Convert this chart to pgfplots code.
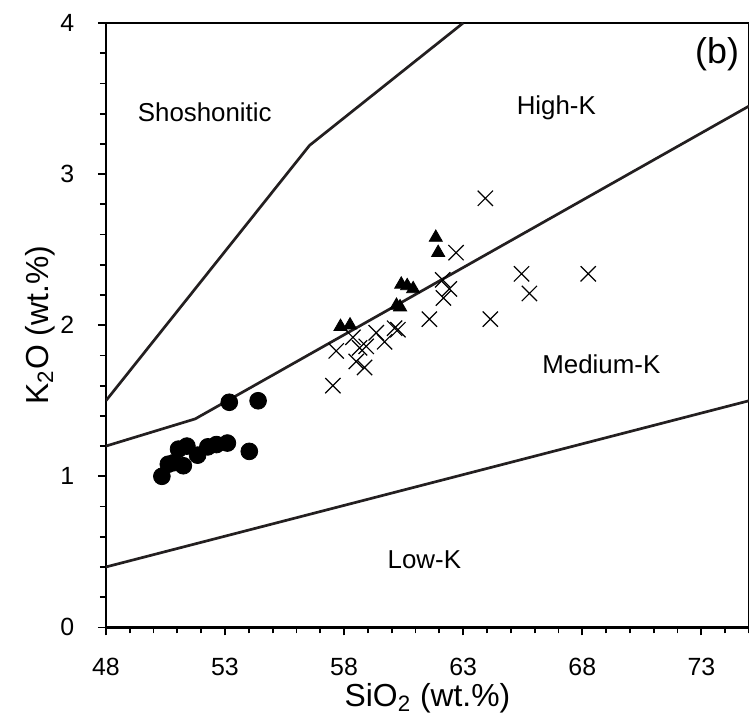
\documentclass[border=0pt]{standalone}
\usepackage{pgfplots}
\pgfplotsset{compat=1.18}
\usepackage{fontspec}
\setmainfont{Liberation Sans}
\setsansfont{Liberation Sans}
\definecolor{lineblk}{HTML}{231F20}
\begin{document}
\begin{tikzpicture}
\begin{axis}[
  name=ax,
  scale only axis,
  width=321.85bp, height=302.5bp,
  xmin=48, xmax=75, ymin=0, ymax=4,
  xtick={48,53,58,63,68,73},
  ytick={0,1,2,3,4},
  minor xtick={48,...,75},
  minor ytick={0.2,0.4,0.6,0.8,1.2,1.4,1.6,1.8,2.2,2.4,2.6,2.8,3.2,3.4,3.6,3.8},
  tick align=outside,
  tick pos=left,
  major tick length=4bp, minor tick length=3bp,
  every tick/.style={black, line width=0.9bp},
  axis line style={black, line width=1.2bp},
  ticklabel style={font=\fontsize{12.5}{14}\selectfont, inner sep=1bp},
  xticklabel style={yshift=-10.2bp},
  yticklabel style={xshift=-10.7bp},
  /pgf/number format/assume math mode=true,
  xlabel={SiO\textsubscript{2} (wt.\%)},
  ylabel={K\textsubscript{2}O (wt.\%)},
  label style={font=\fontsize{16}{19}\selectfont, inner sep=0.5bp},
  xlabel style={at={(axis description cs:0.5,-0.131)}, anchor=base},
  ylabel style={at={(axis description cs:-0.090,0.5)}, anchor=base},
  clip=true,
]
% boundary lines
\addplot[lineblk, line width=1.35bp] coordinates {(48,0.4) (75,1.5)};
\addplot[lineblk, line width=1.35bp] coordinates {(48,1.2) (51.75,1.38) (75,3.45)};
\addplot[lineblk, line width=1.35bp] coordinates {(48,1.5) (56.55,3.19) (63,4)};
% crosses
\addplot[only marks, mark=x, mark size=5.4bp, black, mark options={line width=0.6bp}] coordinates {
 (57.53,1.60) (57.67,1.83) (58.37,1.92) (58.51,1.76) (58.65,1.85)
 (58.86,1.72) (58.93,1.86) (59.35,1.95) (59.70,1.89) (60.12,1.98)
 (60.26,1.97) (61.58,2.04) (62.14,2.30) (62.42,2.24) (62.17,2.18)
 (62.70,2.48) (63.93,2.84) (64.14,2.04) (65.45,2.34) (65.78,2.21)
 (68.25,2.34)
};
% triangles
\addplot[only marks, mark=triangle*, mark size=3.8bp, black] coordinates {
 (57.85,1.99) (58.25,2.00) (60.20,2.13) (60.35,2.12) (60.40,2.27)
 (60.65,2.26) (60.90,2.24) (61.85,2.58) (61.95,2.48)
};
% circles
\addplot[only marks, mark=*, mark size=4.2bp, black] coordinates {
 (50.35,1.00) (50.62,1.08) (50.85,1.09) (51.25,1.07) (51.05,1.18)
 (51.40,1.20) (51.85,1.14) (52.28,1.195) (52.64,1.21) (53.10,1.22)
 (54.02,1.165) (53.18,1.49) (54.39,1.50)
};
% labels
\node[font=\fontsize{13}{15}\selectfont] at (axis cs:52.15,3.41) {Shoshonitic};
\node[font=\fontsize{13}{15}\selectfont] at (axis cs:66.91,3.44) {High-K};
\node[font=\fontsize{13}{15}\selectfont] at (axis cs:68.8,1.74) {Medium-K};
\node[font=\fontsize{13}{15}\selectfont] at (axis cs:61.37,0.45) {Low-K};
\node[font=\fontsize{18}{21}\selectfont] at (axis cs:73.66,3.79) {(b)};
\end{axis}
\pgfresetboundingbox
\path[use as bounding box] ([shift={(-53bp,-47.5bp)}]ax.south west) rectangle ([shift={(0bp,11.5bp)}]ax.north east);
\end{tikzpicture}
\end{document}
